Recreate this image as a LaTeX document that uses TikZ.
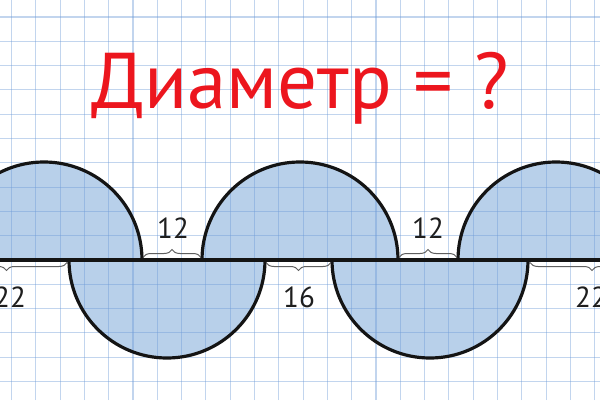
\documentclass[tikz,border=0pt]{standalone}
\usepackage{fontspec}
\setmainfont{PT Sans}
\usetikzlibrary{decorations.pathreplacing}
\definecolor{gridblue}{RGB}{110,155,215}
\definecolor{shapefill}{RGB}{184,208,234}
\definecolor{titlered}{RGB}{236,22,30}
\definecolor{bracegray}{RGB}{95,95,95}
\definecolor{numcol}{RGB}{30,30,30}
\tikzset{
  gridline/.style={gridblue, draw opacity=0.42, line width=1.1pt},
  shapefillst/.style={fill=shapefill},
  outline/.style={draw=black!92, line width=3.2pt},
  bracest/.style={draw=bracegray, line width=1pt, decorate, decoration={brace, amplitude=8pt}},
  numlabel/.style={text=numcol, font=\fontsize{29}{32}\selectfont, inner sep=0pt},
  titlest/.style={text=titlered, font=\fontsize{79}{90}\selectfont, inner sep=0pt}
}
\begin{document}
\begin{tikzpicture}[x=1pt,y=1pt]
\useasboundingbox (0,0) rectangle (600,400);
\fill[white!98!blue!1] (0,0) rectangle (600,400);
% fills
\foreach \c in {44,300,556} {
  \fill[shapefillst] (\c-98,140) arc[start angle=180,end angle=0,radius=98] -- cycle;
}
\foreach \c in {167,430} {
  \fill[shapefillst] (\c-98,140) arc[start angle=180,end angle=360,radius=98] -- cycle;
}
% grid
\foreach \k in {0,...,24} {
  \draw[gridline] (11.5+24.3*\k,0) -- (11.5+24.3*\k,400);
}
\foreach \k in {-6,...,11} {
  \draw[gridline] (0,140+24.3*\k) -- (600,140+24.3*\k);
}
% outlines
\coordinate (L) at (0,140);
\coordinate (R) at (600,140);
\draw[outline] (L) -- (R);
\foreach \c in {44,300,556} {
  \draw[outline] (\c-98,140) arc[start angle=180,end angle=0,radius=98];
}
\foreach \c in {167,430} {
  \draw[outline] (\c-98,140) arc[start angle=180,end angle=360,radius=98];
}
% braces
\coordinate (b1a) at (143,142.5);
\coordinate (b1b) at (201,142.5);
\coordinate (b2a) at (399,142.5);
\coordinate (b2b) at (457,142.5);
\coordinate (b3a) at (331,137.5);
\coordinate (b3b) at (266,137.5);
\coordinate (b4a) at (67,137.5);
\coordinate (b4b) at (-54,137.5);
\coordinate (b5a) at (654,137.5);
\coordinate (b5b) at (530,137.5);
\draw[bracest] (b1a) -- (b1b);
\draw[bracest] (b2a) -- (b2b);
\draw[bracest] (b3a) -- (b3b);
\draw[bracest] (b4a) -- (b4b);
\draw[bracest] (b5a) -- (b5b);
% labels
\node[numlabel] (n12a) at (173,172) {12};
\node[numlabel] (n12b) at (428,172) {12};
\node[numlabel] (n16) at (299,103) {16};
\node[numlabel] (n22a) at (10,103) {22};
\node[numlabel] (n22b) at (591,103) {22};
% title
\node[titlest, anchor=base] (title) at (300,292) {Диаметр = ?};
\end{tikzpicture}
\end{document}
